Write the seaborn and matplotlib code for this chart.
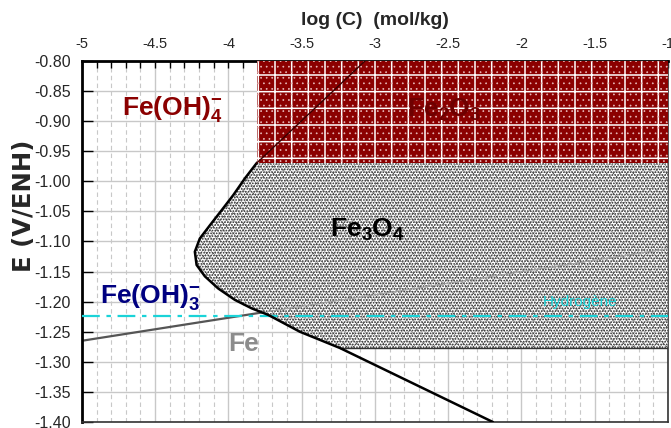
import numpy as np
import pandas as pd
import matplotlib
matplotlib.use("Agg")
import matplotlib.pyplot as plt
import seaborn as sns
from matplotlib.ticker import MultipleLocator, FormatStrFormatter

# ------------------------------------------------------------------
#  Datos leidos del diagrama (log C en mol/kg, E en V/ENH)
# ------------------------------------------------------------------
# frontera Fe3O4 / especies disueltas (curva negra)
curva_logc = [-3.068, -3.808, -3.887, -3.967, -4.046, -4.126, -4.195, -4.229,
              -4.217, -4.160, -4.070, -3.956, -3.842, -3.728, -3.512, -3.239, -2.195]
curva_e = [-0.800, -0.970, -0.995, -1.023, -1.048, -1.073, -1.095, -1.117,
           -1.139, -1.158, -1.178, -1.197, -1.211, -1.222, -1.250, -1.277, -1.400]

# dominio Fe2O3 (rectangulo)
fe2o3_logc = [-3.805, -1.0]
fe2o3_e_bas = -0.970
fe2o3_e_haut = -0.800

# dominio Fe3O4 : bord droit et bord bas
fe3o4_logc_max = -1.0
fe3o4_e_haut = -0.970
fe3o4_e_bas = -1.277

# droite hydrogene
h2_logc = [-5.0, -1.0]
h2_e = [-1.223, -1.223]

# droite Fe
fe_logc = [-5.0, -1.0]
fe_e = [-1.265, -1.112]

# etiquetas
etiquetas = [
    (r'Fe(OH)$_\mathbf{4}^\mathbf{-}$', -4.727, -0.890, '#8b0000', 19),
    (r'Fe$_\mathbf{2}$O$_\mathbf{3}$', -2.782, -0.892, '#6e0000', 19),
    (r'Fe$_\mathbf{3}$O$_\mathbf{4}$', -3.307, -1.092, 'black', 19),
    (r'Fe(OH)$_\mathbf{3}^\mathbf{-}$', -4.877, -1.202, '#000080', 19),
    ('Fe', -4.003, -1.282, '#8c8c8c', 19),
]

# ------------------------------------------------------------------
sns.set_theme(style="white")
plt.rcParams['font.family'] = ['Liberation Sans', 'DejaVu Sans']
plt.rcParams['mathtext.fontset'] = 'custom'
plt.rcParams['mathtext.rm'] = 'Liberation Sans:bold'
plt.rcParams['mathtext.bf'] = 'Liberation Sans:bold'
plt.rcParams['mathtext.it'] = 'Liberation Sans:bold'
plt.rcParams['axes.unicode_minus'] = False

fig = plt.figure(figsize=(6.71, 4.28), dpi=100)
ax = fig.add_axes([0.122, 0.014, 0.8735, 0.8435])

# droite Fe (sous les domaines)
sns.lineplot(x=fe_logc, y=fe_e, ax=ax, color='#555555', lw=1.6, zorder=2)

# dominio Fe3O4
poly_x = curva_logc[1:-1] + [fe3o4_logc_max, fe3o4_logc_max]
poly_y = curva_e[1:-1] + [fe3o4_e_bas, fe3o4_e_haut]
plt.rcParams['hatch.linewidth'] = 0.8
ax.fill(poly_x, poly_y, facecolor='white', edgecolor='#222222', hatch='......',
        linewidth=0, zorder=3)
plt.rcParams['hatch.linewidth'] = 0.3
ax.fill(poly_x, poly_y, facecolor='none', edgecolor='#444444', hatch='xxxxx',
        linewidth=0, zorder=3)
ax.plot([curva_logc[-2], fe3o4_logc_max, fe3o4_logc_max],
        [fe3o4_e_bas, fe3o4_e_bas, fe3o4_e_haut], color='#333333', lw=1, zorder=4)

# prolongement de la droite Fe dans Fe3O4
sns.lineplot(x=[curva_logc[13], fe_logc[1]],
             y=[np.interp(curva_logc[13], fe_logc, fe_e), fe_e[1]],
             ax=ax, color='#a0a0a0', lw=0.8, zorder=4)

# courbe noire
df_curva = pd.DataFrame({'logc': curva_logc, 'e': curva_e})
sns.lineplot(data=df_curva, x='logc', y='e', sort=False, estimator=None, ax=ax,
             color='black', lw=1.8, zorder=5)

# dominio Fe2O3 (par-dessus la courbe)
plt.rcParams['hatch.linewidth'] = 1.1
ax.fill_between(fe2o3_logc, fe2o3_e_bas, fe2o3_e_haut, facecolor='#8b0000',
                edgecolor='white', hatch='+', linewidth=0, zorder=5.5)
plt.rcParams['hatch.linewidth'] = 0.5
ax.fill_between(fe2o3_logc, fe2o3_e_bas, fe2o3_e_haut, facecolor='none',
                edgecolor='#e8b8b8', hatch='...', linewidth=0, zorder=5.5)
# trace de la courbe a travers Fe2O3
sns.lineplot(x=curva_logc[:2], y=curva_e[:2], ax=ax, color='#3a0000', lw=1.0,
             zorder=5.6)

# hydrogene
sns.lineplot(x=h2_logc, y=h2_e, ax=ax, color='#1ad3d8', lw=1.6,
             linestyle=(0, (8, 3, 2, 3)), zorder=4)
ax.text(-1.853, -1.208, 'Hydrog\u00e8ne', color='#1ad3d8', fontsize=11, zorder=6)

for txt, x, y, col, fs in etiquetas:
    ax.text(x, y, txt, color=col, fontsize=fs, fontweight='bold', zorder=6)

# ejes
ax.set_xlim(-5, -1)
ax.set_ylim(-1.40, -0.80)
ax.xaxis.tick_top()
ax.xaxis.set_label_position('top')
ax.xaxis.set_major_locator(MultipleLocator(0.5))
ax.xaxis.set_minor_locator(MultipleLocator(0.1))
ax.xaxis.set_major_formatter(FormatStrFormatter('%g'))
ax.yaxis.set_major_locator(MultipleLocator(0.05))
ax.yaxis.set_major_formatter(FormatStrFormatter('%.2f'))
ax.tick_params(axis='x', which='both', top=True, bottom=False, direction='in',
               length=5, width=1, color='black', labelsize=10.5, pad=7.5)
ax.tick_params(axis='y', which='both', left=True, direction='in', length=8,
               width=1, color='black', labelsize=11.5, pad=8)

ax.set_xlabel('log (C)  (mol/kg)', fontsize=14, fontweight='bold', labelpad=8.5)
ax.set_ylabel('E (V/ENH)', fontsize=17.5, fontweight='bold',
              family=['DejaVu Sans'])
ax.yaxis.set_label_coords(-0.079, 0.60)

ax.grid(which='major', axis='x', color='#c8c8c8', lw=1, ls='-')
ax.grid(which='minor', axis='x', color='#c8c8c8', lw=0.8, ls=(0, (4, 3)))
ax.grid(which='major', axis='y', color='#c8c8c8', lw=1, ls='-')
ax.set_axisbelow(True)

for s in ['top', 'left']:
    ax.spines[s].set_color('black')
    ax.spines[s].set_linewidth(2)
for s in ['right', 'bottom']:
    ax.spines[s].set_color('#333333')
    ax.spines[s].set_linewidth(1.2)

fig.savefig('out.png', dpi=100)
